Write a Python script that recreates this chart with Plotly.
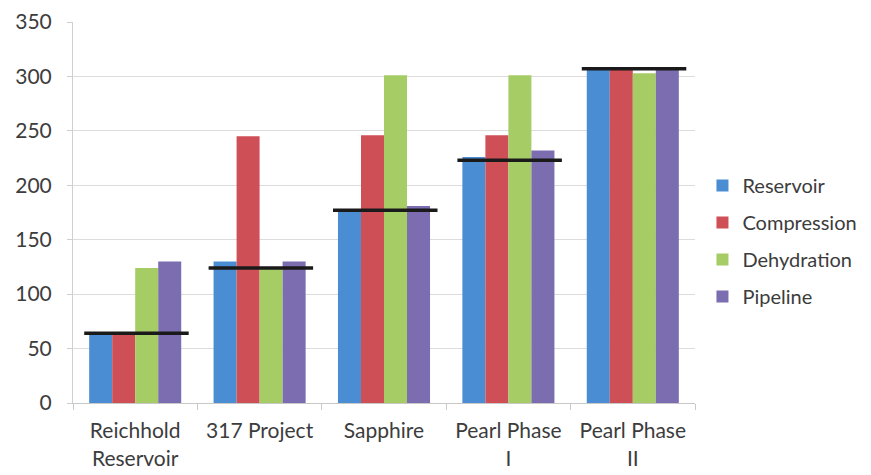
import plotly.graph_objects as go

# Project categories (x axis)
projects = ["Reichhold<br>Reservoir", "317 Project", "Sapphire", "Pearl Phase<br>I", "Pearl Phase<br>II"]

# Values per discipline
reservoir = [63, 130, 176, 226, 306]
compression = [63, 245, 246, 246, 306]
dehydration = [124, 124, 301, 301, 303]
pipeline = [130, 130, 181, 232, 306]

# Overall project level shown as a black bar across each group
project_level = [64, 124, 177, 223, 307]

series_names = ["Reservoir", "Compression", "Dehydration", "Pipeline"]
series_values = [reservoir, compression, dehydration, pipeline]
series_colors = ["#4b8dd2", "#cf4f57", "#a6cc66", "#7c6db0"]

y_ticks = [0, 50, 100, 150, 200, 250, 300, 350]

x_pos = list(range(len(projects)))

fig = go.Figure()

for i, (name, vals, col) in enumerate(zip(series_names, series_values, series_colors)):
    fig.add_trace(go.Bar(
        x=x_pos, y=vals, name=name,
        marker=dict(color=col, line=dict(width=0)),
        legendgroup=name,
    ))

# Black level markers spanning each project group
for xi, lvl in zip(x_pos, project_level):
    fig.add_trace(go.Scatter(
        x=[xi - 0.41, xi + 0.43], y=[lvl, lvl],
        mode="lines", line=dict(color="#1a1a1a", width=3.5),
        showlegend=False, hoverinfo="skip",
    ))

fig.update_layout(
    width=871, height=475,
    margin=dict(l=73, r=176, t=22, b=72, autoexpand=False),
    paper_bgcolor="white", plot_bgcolor="white",
    barmode="group", bargap=0.26, bargroupgap=0,
    font=dict(family="Lato, 'Open Sans', sans-serif", size=21, color="#3c3c3c"),
    legend=dict(
        x=1.012, y=0.425, xanchor="left", yanchor="middle",
        font=dict(size=20, color="#3c3c3c"),
        traceorder="grouped", tracegroupgap=8,
        bgcolor="rgba(0,0,0,0)",
    ),
    showlegend=True,
)

fig.update_xaxes(
    range=[-0.5, len(projects) - 0.5],
    tickvals=x_pos, ticktext=projects,
    ticks="", showgrid=False, automargin=False,
    showline=True, linecolor="#c8c8c8", linewidth=1,
    minor=dict(tickvals=[i - 0.5 for i in range(len(projects) + 1)],
               ticks="outside", ticklen=6, tickcolor="#c8c8c8", showgrid=False),
    tickfont=dict(size=21, color="#3c3c3c"),
    ticklabelstandoff=9,
)

fig.update_yaxes(
    range=[0, 350], tickvals=y_ticks, automargin=False,
    showgrid=True, gridcolor="#dcdcdc", gridwidth=1,
    showline=True, linecolor="#d0d0d0", linewidth=1,
    ticks="outside", ticklen=5, tickcolor="#d0d0d0",
    tickfont=dict(size=21, color="#3c3c3c"),
    ticklabelstandoff=11,
    zeroline=False,
)

fig.write_html("out.html")
